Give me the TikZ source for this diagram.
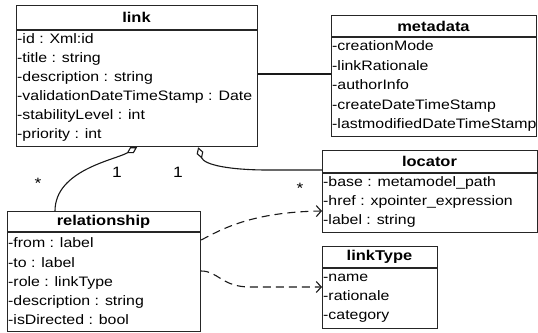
\documentclass[tikz,border=0pt]{standalone}
\usepackage{fontspec}
\setmainfont[FakeStretch=1.16]{Liberation Sans}
\usetikzlibrary{arrows.meta,calc}
\newcommand\myattrfont{\fontsize{13.7}{16}\selectfont}
\newcommand\myttlfont{\fontsize{14.2}{16}\selectfont\bfseries}
\newcommand\mymultfont{\fontsize{15}{17}\selectfont}
\tikzset{
  classbox/.style={draw=black!85, line width=1.2pt, inner sep=0pt, anchor=north west},
  divider/.style={draw=black!85, line width=1.4pt},
  ttl/.style={font=\myttlfont, inner sep=0pt, anchor=center},
  attr/.style={font=\myattrfont, inner sep=0pt, anchor=base west},
  conn/.style={line width=1.1pt, draw=black!90},
  dep/.style={conn, dash pattern=on 8pt off 5pt, -{Straight Barb[length=5pt,width=11pt]}},
  agg/.style={conn, {Diamond[open,length=12pt,width=7pt]}-},
  mult/.style={font=\mymultfont, inner sep=0pt}
}
\begin{document}
\begin{tikzpicture}[x=1pt,y=-1pt]
\useasboundingbox (0,0) rectangle (538,332);
% link
\node[classbox, minimum width=241pt, minimum height=141pt] (link) at (16,5) {};
\draw[divider] (link.west |- 0,30) -- (link.east |- 0,30);
\node[ttl] (linkT) at (136.5,17.5) {link};
\node[attr] (la1) at (17,43.5) {-id : Xml:id};
\node[attr] (la2) at (17,62.5) {-title : string};
\node[attr] (la3) at (17,81.5) {-description : string};
\node[attr] (la4) at (17,100.5) {-validationDateTimeStamp : Date};
\node[attr] (la5) at (17,119.5) {-stabilityLevel : int};
\node[attr] (la6) at (17,138.5) {-priority : int};
% metadata
\node[classbox, minimum width=205pt, minimum height=121pt] (metadata) at (331,15) {};
\draw[divider] (metadata.west |- 0,37) -- (metadata.east |- 0,37);
\node[ttl] (metaT) at (433.5,26) {metadata};
\node[attr] (ma1) at (332,50.5) {-creationMode};
\node[attr] (ma2) at (332,70) {-linkRationale};
\node[attr] (ma3) at (332,89.5) {-authorInfo};
\node[attr] (ma4) at (332,109) {-createDateTimeStamp};
\node[attr] (ma5) at (332,128.5) {-lastmodifiedDateTimeStamp};
% locator
\node[classbox, minimum width=215pt, minimum height=82pt] (locator) at (322,150) {};
\draw[divider] (locator.west |- 0,173) -- (locator.east |- 0,173);
\node[ttl] (locT) at (429.5,161.5) {locator};
\node[attr] (lo1) at (323,186.5) {-base : metamodel\_path};
\node[attr] (lo2) at (323,205.5) {-href : xpointer\_expression};
\node[attr] (lo3) at (323,224.5) {-label : string};
% linkType
\node[classbox, minimum width=115pt, minimum height=82pt] (linkType) at (322,246) {};
\draw[divider] (linkType.west |- 0,268) -- (linkType.east |- 0,268);
\node[ttl] (ltT) at (379.5,257) {linkType};
\node[attr] (lt1) at (323,281.5) {-name};
\node[attr] (lt2) at (323,300.5) {-rationale};
\node[attr] (lt3) at (323,319.5) {-category};
% relationship
\node[classbox, minimum width=193pt, minimum height=120pt] (relationship) at (7,211) {};
\draw[divider] (relationship.west |- 0,232) -- (relationship.east |- 0,232);
\node[ttl] (relT) at (103.5,221.5) {relationship};
\node[attr] (r1) at (8,247.5) {-from : label};
\node[attr] (r2) at (8,267) {-to : label};
\node[attr] (r3) at (8,286.5) {-role : linkType};
\node[attr] (r4) at (8,305.5) {-description : string};
\node[attr] (r5) at (8,324.5) {-isDirected : bool};
% connectors
\draw[conn] (link.east |- 0,74) -- (metadata.west |- 0,74);
\draw[agg] (link.south) .. controls (115,160) and (55,170) .. ($(relationship.north west)+(48,0)$);
\draw[agg] ($(link.south)+(61,0)$) .. controls (204,165) and (230,170) .. (268,170) -- ($(locator.north west)+(0,20)$);
\draw[dep] ($(relationship.north east)+(0,29)$) .. controls (222,229) and (252,212) .. ($(locator.north west)+(0,61)$);
\draw[dep] ($(relationship.north east)+(0,60)$) .. controls (218,271) and (222,287) .. (250,287) -- ($(linkType.north west)+(0,41)$);
% multiplicities
\node[mult] (m1) at (117,172) {1};
\node[mult] (m2) at (178,172) {1};
\node[mult] (m3) at (38,183) {*};
\node[mult] (m4) at (300,188) {*};
\end{tikzpicture}
\end{document}
